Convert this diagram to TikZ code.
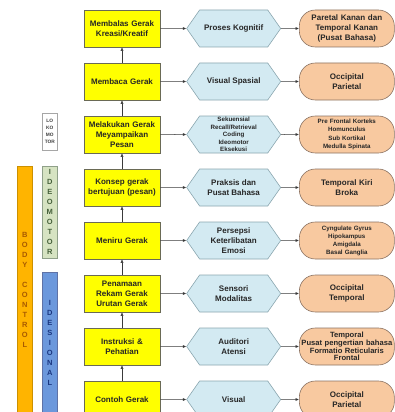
\documentclass[tikz,border=0pt]{standalone}
\usepackage{fontspec}
\setmainfont{Liberation Sans}
\usepackage{tikz}
\usetikzlibrary{arrows.meta,positioning,shapes.symbols}
\definecolor{boxyellow}{HTML}{FFFF00}
\definecolor{boxedge}{HTML}{6A6A55}
\definecolor{hexfill}{HTML}{D3EAF2}
\definecolor{hexedge}{HTML}{8AA6AF}
\definecolor{ovalfill}{HTML}{F8C9A0}
\definecolor{ovaledge}{HTML}{8A7262}
\definecolor{arrowgray}{HTML}{3A3A3A}
\definecolor{bodyorange}{HTML}{FFB400}
\definecolor{bodytext}{HTML}{A85A00}
\definecolor{ideofill}{HTML}{D6E3C2}
\definecolor{ideotext}{HTML}{45603A}
\definecolor{desifill}{HTML}{6C98DC}
\definecolor{desitext}{HTML}{1A3680}
\tikzset{
  gerak/.style={
    draw=boxedge, fill=boxyellow, line width=0.6pt, minimum height=37pt,
    text width=72pt, inner xsep=2pt, inner ysep=0pt, align=center,
    font=\fontsize{8}{9.8}\selectfont\bfseries, text=black!85},
  proses/.style={
    signal, signal to=east and west, signal pointer angle=110,
    draw=hexedge, fill=hexfill, line width=0.6pt, minimum height=37pt,
    minimum width=94pt, inner xsep=2pt, inner ysep=0pt, align=center,
    font=\fontsize{8}{9.8}\selectfont\bfseries, text=black!85},
  otak/.style={
    draw=ovaledge, fill=ovalfill, line width=0.6pt, rounded corners=16pt,
    minimum height=37pt, text width=91pt, inner xsep=2pt, inner ysep=0pt,
    align=center, font=\fontsize{8}{9.8}\selectfont\bfseries, text=black!85},
  kecil/.style={font=\fontsize{6.2}{7.4}\selectfont\bfseries},
  flow/.style={-{Latex[length=3.5pt,width=3pt]}, line width=0.5pt, draw=arrowgray},
  bar/.style={
    line width=0.6pt, minimum width=15pt, inner sep=0pt, anchor=north west,
    align=center, font=\fontsize{7.5}{10}\selectfont\bfseries},
}

\begin{document}
\begin{tikzpicture}[x=1pt, y=1pt]
  \useasboundingbox (0,0) rectangle (395,-412);

  % tahapan gerak (kolom kuning)
  \node[gerak] (kreasi) at (122,-28.5) {Membalas Gerak\\Kreasi/Kreatif};
  \node[gerak, below=15.4pt of kreasi] (membaca) {Membaca Gerak};
  \node[gerak, below=15.4pt of membaca] (pesan) {Melakukan Gerak\\Meyampaikan\\Pesan};
  \node[gerak, below=15.4pt of pesan] (konsep) {Konsep gerak\\bertujuan (pesan)};
  \node[gerak, below=15.4pt of konsep] (meniru) {Meniru Gerak};
  \node[gerak, below=15.4pt of meniru] (rekam) {Penamaan\\Rekam Gerak\\Urutan Gerak};
  \node[gerak, below=15.4pt of rekam] (instruksi) {Instruksi \&\\Pehatian};
  \node[gerak, below=15.4pt of instruksi] (contoh) {Contoh Gerak};

  % proses (heksagon)
  \node[proses, right=26pt of kreasi] (kognitif) {Proses Kognitif};
  \node[proses, right=26pt of membaca] (spasial) {Visual Spasial};
  \node[proses, kecil, right=26pt of pesan] (sekuensial)
    {Sekuensial\\Recall/Retrieval\\Coding\\Ideomotor\\Eksekusi};
  \node[proses, right=26pt of konsep] (praksis) {Praksis dan\\Pusat Bahasa};
  \node[proses, right=26pt of meniru] (persepsi) {Persepsi\\Keterlibatan\\Emosi};
  \node[proses, right=26pt of rekam] (sensori) {Sensori\\Modalitas};
  \node[proses, right=26pt of instruksi] (auditori) {Auditori\\Atensi};
  \node[proses, right=26pt of contoh] (visual) {Visual};

  % area otak (oval)
  \node[otak, right=18pt of kognitif] (paretal) {Paretal Kanan dan\\Temporal Kanan\\(Pusat Bahasa)};
  \node[otak, right=18pt of spasial] (occparietal) {Occipital\\Parietal};
  \node[otak, font=\fontsize{6.2}{8.3}\selectfont\bfseries, right=18pt of sekuensial] (prefrontal)
    {Pre Frontal Korteks\\Homunculus\\Sub Kortikal\\Medulla Spinata};
  \node[otak, right=18pt of praksis] (broka) {Temporal Kiri\\Broka};
  \node[otak, font=\fontsize{6.2}{8}\selectfont\bfseries, right=18pt of persepsi] (cyngulate)
    {Cyngulate Gyrus\\Hipokampus\\Amigdala\\Basal Ganglia};
  \node[otak, right=18pt of sensori] (occtemporal) {Occipital\\Temporal};
  \node[otak, font=\fontsize{7.6}{7.8}\selectfont\bfseries, right=18pt of auditori] (temporal)
    {Temporal\\\mbox{Pusat pengertian bahasa}\\Formatio Reticularis\\Frontal};
  \node[otak, right=18pt of visual] (occvisual) {Occipital\\Parietal};

  % pita samping
  \node[bar, draw=bodyorange!80!black, fill=bodyorange, text=bodytext,
        minimum height=248pt] (body) at (17,-166)
    {B\\O\\D\\Y\\[10pt]C\\O\\N\\T\\R\\O\\L};
  \node[bar, draw=ideotext!60, fill=ideofill, text=ideotext,
        minimum height=92pt] (ideomotor) at (42,-166)
    {I\\D\\E\\O\\M\\O\\T\\O\\R};
  \node[bar, draw=desitext!70, fill=desifill, text=desitext,
        minimum height=142pt] (idesional) at (42,-272)
    {I\\D\\E\\S\\I\\O\\N\\A\\L};
  \node[bar, draw=black!35, fill=white, text=black!75, minimum height=37pt,
        font=\fontsize{4.8}{7}\selectfont\bfseries] (lokomotor) at (42,-113)
    {LO\\KO\\MO\\TOR};

  % alur naik
  \draw[flow] (contoh) -- (instruksi);
  \draw[flow] (instruksi) -- (rekam);
  \draw[flow] (rekam) -- (meniru);
  \draw[flow] (meniru) -- (konsep);
  \draw[flow] (konsep) -- (pesan);
  \draw[flow] (pesan) -- (membaca);
  \draw[flow] (membaca) -- (kreasi);

  % alur ke kanan
  \draw[flow] (kreasi) -- (kognitif);
  \draw[flow] (membaca) -- (spasial);
  \draw[flow] (pesan) -- (sekuensial);
  \draw[flow] (konsep) -- (praksis);
  \draw[flow] (meniru) -- (persepsi);
  \draw[flow] (rekam) -- (sensori);
  \draw[flow] (instruksi) -- (auditori);
  \draw[flow] (contoh) -- (visual);

  \draw[flow] (kognitif) -- (paretal);
  \draw[flow] (spasial) -- (occparietal);
  \draw[flow] (sekuensial) -- (prefrontal);
  \draw[flow] (praksis) -- (broka);
  \draw[flow] (persepsi) -- (cyngulate);
  \draw[flow] (sensori) -- (occtemporal);
  \draw[flow] (auditori) -- (temporal);
  \draw[flow] (visual) -- (occvisual);
\end{tikzpicture}
\end{document}
